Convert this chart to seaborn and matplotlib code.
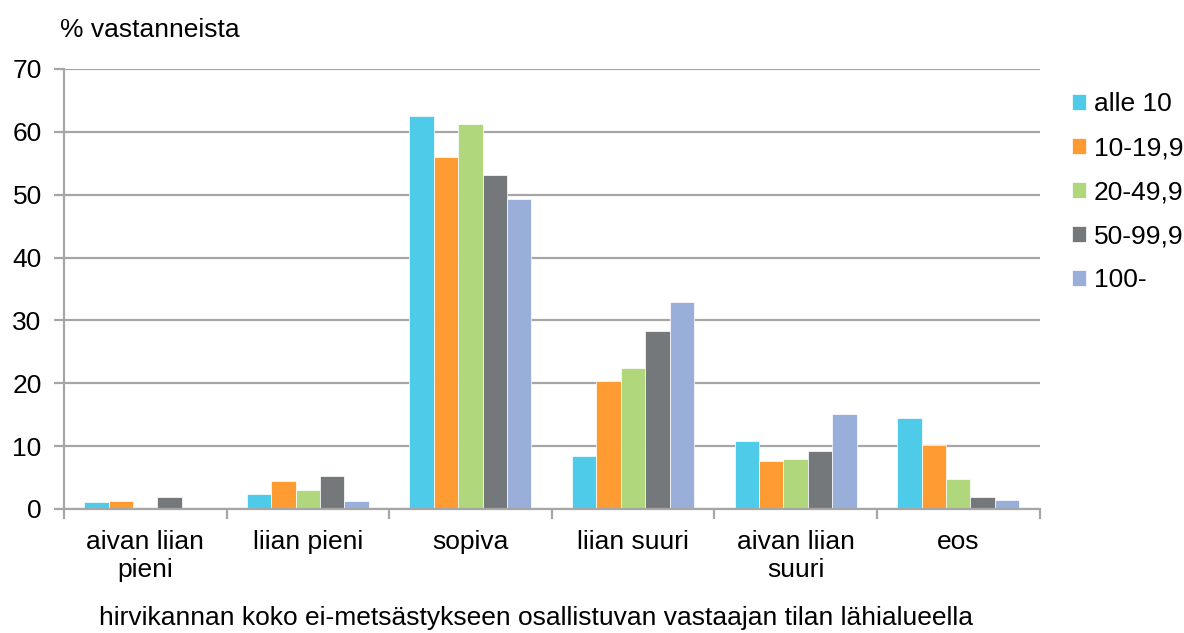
import matplotlib
matplotlib.use("Agg")
import matplotlib.pyplot as plt
import seaborn as sns
import pandas as pd
import numpy as np
from matplotlib.ticker import FixedLocator, MultipleLocator

categories = ["aivan liian\npieni", "liian pieni", "sopiva", "liian suuri", "aivan liian\nsuuri", "eos"]
groups = ["alle 10", "10-19,9", "20-49,9", "50-99,9", "100-"]
alle_10 = [1.1, 2.4, 62.6, 8.4, 10.8, 14.5]
v10_19 = [1.2, 4.4, 56.0, 20.3, 7.6, 10.2]
v20_49 = [0.3, 3.0, 61.2, 22.4, 7.9, 4.8]
v50_99 = [1.9, 5.2, 53.2, 28.3, 9.2, 1.9]
v100 = [0.0, 1.3, 49.3, 32.9, 15.1, 1.4]
colors = ["#4FCBEA", "#FF9B33", "#B1D77C", "#75787B", "#99AED8"]

series = [alle_10, v10_19, v20_49, v50_99, v100]
rows = []
for g, vals in zip(groups, series):
    for c, v in zip(categories, vals):
        rows.append({"cat": c, "group": g, "value": v})
df = pd.DataFrame(rows)

sns.set_style("white")
plt.rcParams['font.family'] = ['Liberation Sans', 'DejaVu Sans']
plt.rcParams['text.color'] = 'black'
plt.rcParams['xtick.color'] = 'black'
plt.rcParams['ytick.color'] = 'black'
plt.rcParams['axes.labelcolor'] = 'black'

FS = 19

fig = plt.figure(figsize=(11.84, 6.33), dpi=100)
ax = fig.add_axes([0.054, 0.196, 0.824, 0.695])

sns.barplot(data=df, x="cat", y="value", hue="group", order=categories,
            hue_order=groups, palette=colors, saturation=1, width=0.75, gap=0,
            edgecolor="white", linewidth=0.5, ax=ax, legend=True)

grid_c = "#A6A6A6"
ax.set_ylim(0, 70)
ax.set_xlim(-0.5, len(categories) - 0.5)
ax.yaxis.set_major_locator(MultipleLocator(10))
ax.yaxis.grid(True, color=grid_c, linewidth=1.6)
ax.set_axisbelow(True)
for s in ["top", "right"]:
    ax.spines[s].set_visible(False)
for s in ["left", "bottom"]:
    ax.spines[s].set_color(grid_c)
    ax.spines[s].set_linewidth(1.6)

ax.tick_params(axis="y", which="major", length=7, width=1.6, color=grid_c,
               labelcolor="black", labelsize=FS, pad=9, left=True)
ax.tick_params(axis="x", which="major", length=0, labelcolor="black", labelsize=FS, pad=15)
ax.xaxis.set_minor_locator(FixedLocator(np.arange(-0.5, len(categories), 1.0)))
ax.tick_params(axis="x", which="minor", length=7, width=1.6, color=grid_c, bottom=True)
for lab in ax.get_xticklabels():
    lab.set_linespacing(1.2)

ax.set_ylabel("")
ax.set_xlabel("")
fig.text(536 / 1184, 1 - 618 / 633,
         "hirvikannan koko ei-metsästykseen osallistuvan vastaajan tilan lähialueella",
         fontsize=FS, ha="center", va="center", color="black")
fig.text(0.051, 0.953, "% vastanneista", fontsize=FS, va="center", ha="left", color="black")

handles, labels = ax.get_legend_handles_labels()
leg = ax.legend(handles, labels, loc="center left", bbox_to_anchor=(1.022, 0.72),
                frameon=False, fontsize=FS, handlelength=0.55, handleheight=0.55,
                handletextpad=0.3, labelspacing=0.76, borderaxespad=0)
for t in leg.get_texts():
    t.set_color("black")

fig.savefig("out.png", dpi=100)
